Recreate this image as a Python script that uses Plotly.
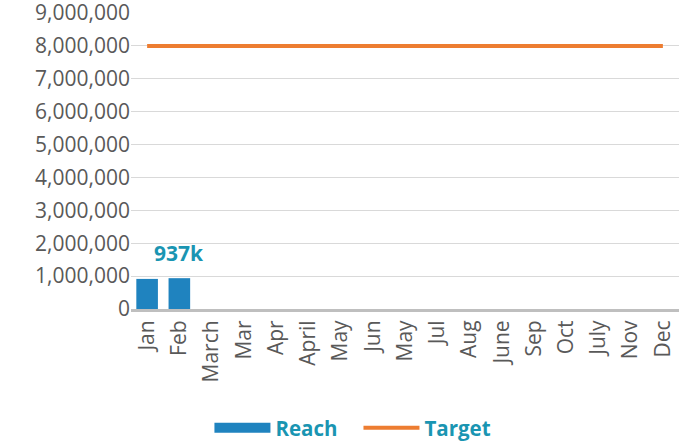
import plotly.graph_objects as go

months = ["Jan", "Feb", "March", "Mar", "Apr", "April", "May", "Jun", "May",
          "Jul", "Aug", "June", "Sep", "Oct", "July", "Nov", "Dec"]
reach = [915000, 937000] + [None] * 15
target = [8000000] * 17
y_ticks = [0, 1000000, 2000000, 3000000, 4000000, 5000000, 6000000, 7000000, 8000000, 9000000]

xs = list(range(len(months)))
BLUE = "#1F83BF"
TEAL = "#1A95B2"
GREY = "#595959"

fig = go.Figure()
fig.add_trace(go.Bar(x=xs, y=reach, name="Reach", showlegend=False,
                     marker=dict(color=BLUE, line=dict(width=0))))
# legend entry for Reach (wide block like the reference)
fig.add_trace(go.Scatter(x=[None], y=[None], name="<b>Reach</b>   ", mode="lines",
                         line=dict(color=BLUE, width=14)))
fig.add_trace(go.Scatter(x=xs, y=target, name="<b>Target</b>", mode="lines",
                         line=dict(color="#ED7D31", width=4)))

fig.add_annotation(x=1, y=reach[1], text="<b>%dk</b>" % round(reach[1] / 1000),
                   showarrow=False, yshift=25, font=dict(family="Open Sans", size=21, color=TEAL))

fig.update_layout(
    width=685, height=443,
    margin=dict(l=131, r=6, t=13, b=134, autoexpand=False),
    plot_bgcolor="white", paper_bgcolor="white",
    bargap=0.33,
    font=dict(family="Open Sans", size=21, color=GREY),
    showlegend=True,
    legend=dict(orientation="h", x=0.405, xanchor="center", y=-0.402, yanchor="middle",
                font=dict(size=20.5, color=TEAL, family="Open Sans"),
                itemwidth=56, traceorder="normal"),
    xaxis=dict(tickmode="array", tickvals=xs, ticktext=months, tickangle=-90,
               range=[-0.5, len(months) - 0.5], showgrid=False, automargin=False,
               ticklabeloverflow="allow",
               showline=True, linecolor="#BFBFBF", linewidth=3, ticks="",
               tickfont=dict(size=21, color=GREY)),
    yaxis=dict(tickmode="array", tickvals=y_ticks, range=[0, 9000000], automargin=False,
               ticklabeloverflow="allow",
               tickformat=",d", showgrid=True, gridcolor="#D9D9D9", gridwidth=1,
               zeroline=False, ticks="", tickfont=dict(size=21, color=GREY)),
)

# remove the default page margin so the 685x443 figure fills the window exactly
fig.write_html("out.html", config={"displayModeBar": False},
               post_script="document.body.style.margin='0';")
